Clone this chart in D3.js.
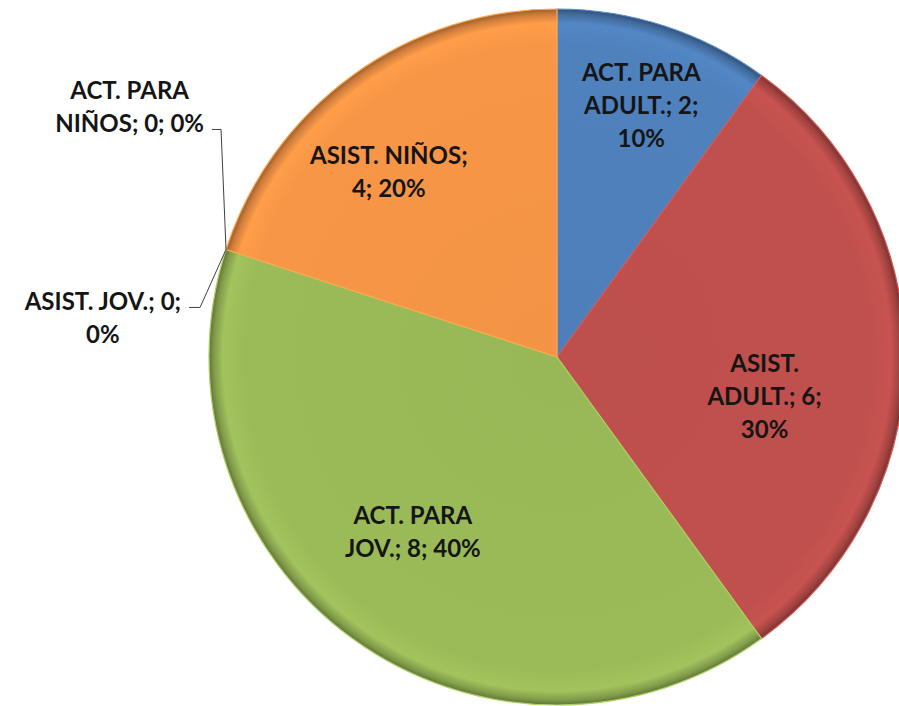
<!DOCTYPE html>
<html>
<head>
<meta charset="utf-8">
<script src="https://d3js.org/d3.v7.min.js"></script>
<style>
body { margin: 0; background: #fff; }
.lbl { font-family: Lato, "Open Sans", sans-serif; font-weight: bold; font-size: 24px; fill: #151515; }
</style>
</head>
<body>
<div id="chart"></div>
<script>
// chart data (clockwise from 12 o'clock)
var categories = ["ACT. PARA ADULT.", "ASIST. ADULT.", "ACT. PARA JOV.", "ASIST. JOV.", "ACT. PARA NIÑOS", "ASIST. NIÑOS"];
var values = [2, 6, 8, 0, 0, 4];
var percents = ["10%", "30%", "40%", "0%", "0%", "20%"];
var colors = ["#4F81BD", "#C0504D", "#9BBB59", "#8064A2", "#4BACC6", "#F79646"];
// words per line for each wrapped label
var wraps = [[2, 2, 1], [1, 2, 1], [2, 3], [3, 1], [2, 3], [2, 2]];

var W = 899, H = 706;
var cx = 557, cy = 357, R = 348;

var svg = d3.select("#chart").append("svg")
    .attr("width", W).attr("height", H);

var defs = svg.append("defs");
colors.forEach(function(c, i) {
  var g = defs.append("radialGradient")
      .attr("id", "grad" + i)
      .attr("gradientUnits", "userSpaceOnUse")
      .attr("cx", 0).attr("cy", 0).attr("r", R);
  var base = d3.color(c);
  [[0, base.darker(0.05)], [0.9, base], [0.96, base.brighter(0.12)],
   [0.985, base.darker(0.5)], [1, base.darker(1.3)]].forEach(function(s) {
    g.append("stop").attr("offset", s[0]).attr("stop-color", s[1].formatHex());
  });
});

var g = svg.append("g").attr("transform", "translate(" + cx + "," + cy + ")");

var pie = d3.pie().sort(null).value(function(d) { return d; });
var arcs = pie(values);
var arc = d3.arc().innerRadius(0).outerRadius(R);
var labelArc = d3.arc().innerRadius(R * 0.7).outerRadius(R * 0.7);
var rimArc = d3.arc().innerRadius(R).outerRadius(R);

g.selectAll("path.slice")
  .data(arcs)
  .enter().append("path")
    .attr("class", "slice")
    .attr("d", arc)
    .attr("fill", function(d, i) { return "url(#grad" + i + ")"; })
    .attr("stroke", function(d, i) { return d3.color(colors[i]).brighter(0.3).formatHex(); })
    .attr("stroke-width", function(d) { return d.value > 0 ? 1.2 : 0; });

function labelLines(i) {
  var words = (categories[i] + "; " + values[i] + "; " + percents[i]).split(" ");
  var lines = [], k = 0;
  wraps[i].forEach(function(n) { lines.push(words.slice(k, k + n).join(" ")); k += n; });
  return lines;
}

var lineH = 33;

function drawText(x, y, lines) {
  var t = g.append("text").attr("class", "lbl").attr("text-anchor", "middle");
  lines.forEach(function(l, j) {
    t.append("tspan").attr("x", x).attr("y", y + (j - (lines.length - 1) / 2) * lineH)
      .attr("dy", "0.35em").text(l);
  });
  return t;
}

// nudges from the 0.7r centroid for inside labels
var nudge = [[9, -20], [-36, 40], [-1, -22], null, null, [-25, 12]];

arcs.forEach(function(d, i) {
  if (d.value > 0) {
    var c = labelArc.centroid(d);
    drawText(c[0] + nudge[i][0], c[1] + nudge[i][1], labelLines(i));
  }
});

// zero slices: labels outside with elbow leader lines
var outside = { 3: { elbow: [-26, 58], end: -11, row: 0 }, 4: { elbow: [-5, -120], end: -9, row: 1 } };
arcs.forEach(function(d, i) {
  if (d.value > 0) return;
  var o = outside[i];
  var p = rimArc.centroid(d);
  var e = [p[0] + o.elbow[0], p[1] + o.elbow[1]];
  var f = [e[0] + o.end, e[1]];
  g.append("path")
    .attr("d", d3.line()([p, e, f]))
    .attr("fill", "none").attr("stroke", "#404040").attr("stroke-width", 1);
  var lines = labelLines(i);
  var t = drawText(0, 0, lines);
  var ws = [];
  t.selectAll("tspan").each(function() { ws.push(this.getComputedTextLength()); });
  var right = f[0] - 8;
  var xc = right - ws[o.row] / 2;
  var yc = f[1] - 6 - (o.row - (lines.length - 1) / 2) * lineH;
  t.selectAll("tspan")
    .attr("x", xc)
    .attr("y", function(_, j) { return yc + (j - (lines.length - 1) / 2) * lineH; });
});
</script>
</body>
</html>
